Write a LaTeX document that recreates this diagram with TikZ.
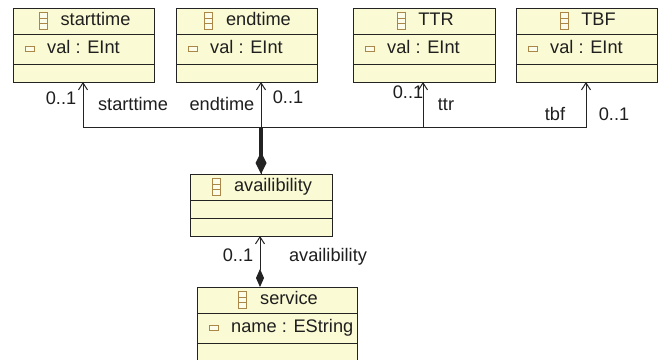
\documentclass[tikz,border=0pt]{standalone}
\usepackage{fontspec}
\setmainfont{Liberation Sans}
\usetikzlibrary{arrows.meta,calc}
\definecolor{classfill}{RGB}{250,250,212}
\definecolor{iconc}{RGB}{170,135,70}
\definecolor{edgec}{RGB}{35,35,35}
\tikzset{
  classbox/.style={draw=edgec, fill=classfill, line width=1pt, anchor=north west, inner sep=0pt, outer sep=0pt},
  divider/.style={draw=edgec, line width=1pt},
  txt/.style={font=\fontsize{18.2}{21}\selectfont, inner sep=0pt, text=black!88, text height=13pt, text depth=3.8pt},
  iconbox/.style={draw=iconc, fill=classfill!50!white, line width=1pt},
  assoc/.style={draw=edgec, line width=1pt, -{Straight Barb[length=7pt,width=9pt,line width=1pt]}},
  compos/.style={{Diamond[length=22pt,width=11pt]}-},
  smallcomp/.style={{Diamond[length=18pt,width=8pt]}-{Straight Barb[length=7pt,width=9pt,line width=1pt]}, draw=edgec, line width=1pt},
}
% #1 name, #2 x, #3 y, #4 width, #5 title, #6 attribute, #7 #8 #9 compartment heights
\newcommand{\umlclass}[9]{%
  \node[classbox, minimum width=#4pt, minimum height={(#7+#8+#9)*1pt}] (#1) at (#2,#3) {};
  \draw[divider] ($(#1.north west)+(0,#7)$) -- ($(#1.north east)+(0,#7)$);
  \draw[divider] ($(#1.north west)+(0,#7+#8)$) -- ($(#1.north east)+(0,#7+#8)$);
  \node[txt] (#1-t) at ($(#1.north)+(12,#7/2)$) {#5};
  \draw[iconbox] ($(#1-t.west)+(-21,-8.5)$) rectangle ++(8,17);
  \draw[iconc, line width=1pt] ($(#1-t.west)+(-21,-2.8)$) -- ++(8,0);
  \draw[iconc, line width=1pt] ($(#1-t.west)+(-21,2.8)$) -- ++(8,0);
  \ifx&#6&\else
    \node[txt, anchor=west] (#1-a) at ($(#1.north west)+(34,#7+#8/2)$) {#6};
    \draw[iconbox] ($(#1.north west)+(12,#7+#8/2-2.5)$) rectangle ++(9,5);
  \fi
}
\begin{document}
\begin{tikzpicture}[x=1pt, y=-1pt]
  \useasboundingbox (0,0) rectangle (666,359);
  \clip (0,0) rectangle (666,359);
  \fill[white] (0,0) rectangle (666,359);

  \umlclass{st}{13}{8}{141}{starttime}{val : EInt}{26}{30}{18}
  \umlclass{et}{176}{8}{141}{endtime}{val : EInt}{26}{30}{18}
  \umlclass{ttr}{353}{8}{142}{TTR}{val : EInt}{26}{30}{18}
  \umlclass{tbf}{516}{8}{141}{TBF}{val : EInt}{26}{30}{18}
  \umlclass{av}{190}{174}{142}{availibility}{}{26}{18}{18}
  \umlclass{sv}{197}{287}{160}{service}{name : EString}{26}{30}{30}

  % connector anchors
  \coordinate (avtop) at (261,174);
  \coordinate (junc) at (261,127);
  \coordinate (st-in) at (83,82);
  \coordinate (et-in) at (261,82);
  \coordinate (ttr-in) at (423,82);
  \coordinate (tbf-in) at (586,82);
  \coordinate (avbot) at (260,236);
  \coordinate (svtop) at (260,287);

  % composition references from availibility
  \draw[assoc] (avtop) |- (st-in |- junc) -- (st-in);
  \draw[assoc] (avtop) -- (et-in);
  \draw[assoc] (avtop) |- (ttr-in |- junc) -- (ttr-in);
  \draw[assoc] (avtop) |- (tbf-in |- junc) -- (tbf-in);
  \draw[edgec, line width=4pt, compos] (avtop) -- (junc);

  % service -> availibility
  \draw[smallcomp] (svtop) -- (avbot);

  % labels
  \node[txt] (l1) at (61,100) {0..1};
  \node[txt] (l2) at (133,106) {starttime};
  \node[txt] (l3) at (222,106) {endtime};
  \node[txt] (l4) at (288,99) {0..1};
  \node[txt] (l5) at (408,94) {0..1};
  \node[txt] (l6) at (446,106) {ttr};
  \node[txt] (l7) at (555,116) {tbf};
  \node[txt] (l8) at (614,116) {0..1};
  \node[txt] (l9) at (238,257) {0..1};
  \node[txt] (l10) at (328,257) {availibility};
\end{tikzpicture}
\end{document}
